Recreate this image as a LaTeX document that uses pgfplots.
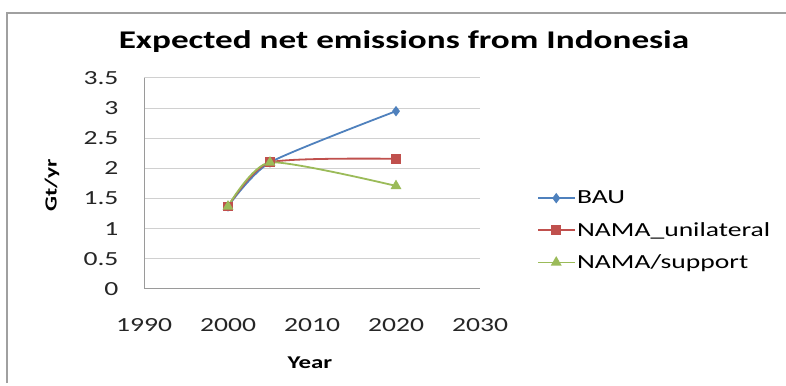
\documentclass[border=0pt]{standalone}
\usepackage{fontspec}
\setmainfont[FakeStretch=1.38]{Carlito}
\usepackage{pgfplots}
\pgfplotsset{compat=1.18}
\definecolor{bau}{HTML}{4F81BD}
\definecolor{unil}{HTML}{C0504D}
\definecolor{supp}{HTML}{9BBB59}
\definecolor{gridc}{HTML}{D0D0D0}
\definecolor{axisc}{HTML}{9A9A9A}
\definecolor{framec}{HTML}{A0A0A0}
\begin{document}
\begin{tikzpicture}
\path[use as bounding box] (0pt,0pt) rectangle (786pt,385pt);
\fill[white] (0pt,0pt) rectangle (786pt,385pt);
\draw[framec, line width=1.5pt] (7pt,2pt) -- (7pt,372pt) -- (786pt,372pt);
\node[font=\fontsize{25.5}{30}\selectfont\bfseries] at (404pt,343pt) {Expected net emissions from Indonesia};
\node[font=\fontsize{17}{20}\selectfont\bfseries, rotate=90] at (52pt,200pt) {Gt/yr};
\node[font=\fontsize{18}{22}\selectfont\bfseries] at (310pt,22pt) {Year};
\begin{axis}[
  at={(144pt,96pt)}, anchor=south west,
  scale only axis, width=336pt, height=211pt,
  xmin=1990, xmax=2030, ymin=0, ymax=3.5,
  xtick={1990,2000,2010,2020,2030},
  ytick={0,0.5,1,1.5,2,2.5,3,3.5},
  axis lines*=left,
  axis line style={axisc, line width=1pt},
  ymajorgrids, grid style={gridc, line width=1pt},
  major tick length=0pt,
  tick label style={font=\fontsize{20}{24}\selectfont, text=black!85},
  /pgf/number format/assume math mode=true,
  /pgf/number format/set thousands separator={},
  xticklabel style={yshift=-26pt},
  yticklabel style={xshift=-22pt},
  legend style={at={(1.17,0.277)}, anchor=west, draw=none, fill=none,
    font=\fontsize{20}{24}\selectfont, row sep=13pt, inner sep=0pt},
  legend cell align=left,
  legend image code/.code={
    \draw[#1, mark repeat=2, mark phase=2] plot coordinates {(0pt,0pt) (18pt,0pt) (36pt,0pt)};
  },
  every axis plot/.append style={line width=1.8pt, smooth, tension=0.38},
]
\addplot[bau, mark=diamond*, mark size=3.8pt, mark options={solid, fill=bau}]
  coordinates {(2000,1.37) (2005,2.10) (2020,2.95)};
\addlegendentry{BAU}
\addplot[unil, mark=square*, mark size=4pt, mark options={solid, fill=unil}]
  coordinates {(2000,1.37) (2005,2.10) (2020,2.16)};
\addlegendentry{NAMA\_unilateral}
\addplot[supp, mark=triangle*, mark size=4.5pt, mark options={solid, fill=supp}]
  coordinates {(2000,1.37) (2005,2.10) (2020,1.71)};
\addlegendentry{NAMA/support}
\end{axis}
\end{tikzpicture}
\end{document}
